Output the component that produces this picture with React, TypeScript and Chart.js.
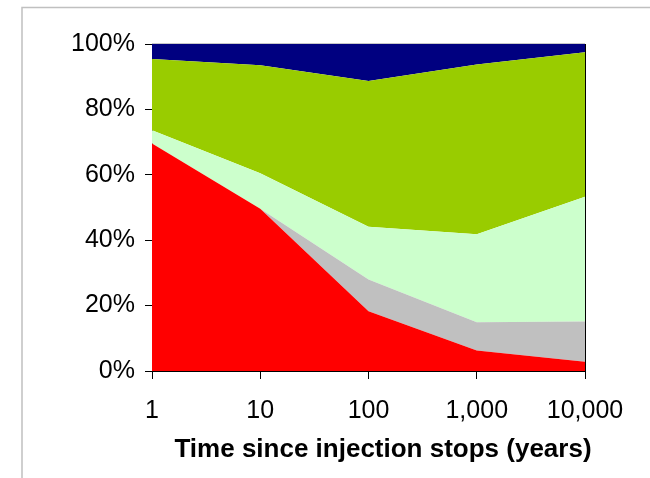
import { useEffect, useRef } from 'react';
import { Chart, registerables } from 'chart.js';

Chart.register(...registerables);

const categories = ['1', '10', '100', '1,000', '10,000'];
const redShare = [69.6, 49.6, 18.3, 6.3, 2.8];
const grayShare = [0, 0, 9.7, 8.6, 12.3];
const paleGreenShare = [4.0, 10.9, 16.1, 26.9, 38.2];
const greenShare = [21.8, 33.0, 44.6, 51.9, 44.2];
const navyShare = [4.6, 6.5, 11.3, 6.3, 2.5];
const axisTitle = 'Time since injection stops (years)';

const FONT = '"Liberation Sans", Arial, Helvetica, sans-serif';

export default function App() {
  const ref = useRef<HTMLCanvasElement>(null);

  useEffect(() => {
    if (!ref.current) return;

    const framePlugin = {
      id: 'frame',
      beforeDraw(chart: any) {
        const ctx = chart.ctx;
        ctx.save();
        ctx.strokeStyle = '#c0c0c0';
        ctx.lineWidth = 1.5;
        ctx.beginPath();
        ctx.moveTo(22, chart.height);
        ctx.lineTo(22, 7.5);
        ctx.lineTo(chart.width, 7.5);
        ctx.stroke();
        ctx.restore();
      },
      afterDraw(chart: any) {
        const ctx = chart.ctx;
        const a = chart.chartArea;
        ctx.save();
        ctx.strokeStyle = '#c8c8c8';
        ctx.lineWidth = 1;
        ctx.beginPath();
        ctx.moveTo(a.left, a.top - 0.5);
        ctx.lineTo(a.right, a.top - 0.5);
        ctx.stroke();
        ctx.strokeStyle = '#000';
        ctx.beginPath();
        ctx.moveTo(a.right + 0.5, a.top);
        ctx.lineTo(a.right + 0.5, a.bottom);
        ctx.stroke();
        ctx.fillStyle = '#000';
        ctx.font = `bold 26px ${FONT}`;
        ctx.textAlign = 'center';
        ctx.textBaseline = 'alphabetic';
        ctx.fillText(axisTitle, 383, 457);
        ctx.restore();
      },
    };

    const ds = (label: string, data: number[], color: string, fill: any) => ({
      label,
      data,
      backgroundColor: color,
      borderColor: color,
      borderWidth: 0,
      pointRadius: 0,
      tension: 0,
      fill,
    });

    const chart = new Chart(ref.current, {
      type: 'line',
      data: {
        labels: categories,
        datasets: [
          ds('Red', redShare, '#ff0000', 'origin'),
          ds('Gray', grayShare, '#c0c0c0', '-1'),
          ds('Pale green', paleGreenShare, '#ccffcc', '-1'),
          ds('Green', greenShare, '#99cc00', '-1'),
          ds('Navy', navyShare, '#000080', '-1'),
        ],
      },
      options: {
        animation: false,
        responsive: false,
        layout: { padding: { top: 44, right: 65, left: 0, bottom: 0 } },
        plugins: {
          legend: { display: false },
          tooltip: { enabled: false },
        },
        scales: {
          x: {
            type: 'category',
            offset: false,
            grid: { drawOnChartArea: false, tickLength: 8, color: '#000' },
            border: { color: '#000', width: 1 },
            ticks: {
              font: { size: 25, family: FONT },
              color: '#000',
              padding: 17,
              maxRotation: 0,
              autoSkip: false,
            },
            afterFit(s: any) {
              s.height = 107;
            },
          },
          y: {
            stacked: true,
            min: 0,
            max: 100,
            grid: { drawOnChartArea: false, tickLength: 7, color: '#000' },
            border: { color: '#000', width: 1 },
            ticks: {
              stepSize: 10,
              font: { size: 25, family: FONT },
              color: '#000',
              padding: 10,
              callback: (v: any) => (Number(v) % 20 === 0 ? `${v}%` : ''),
            },
            afterFit(s: any) {
              s.width = 152;
            },
          },
        },
      },
      plugins: [framePlugin],
    } as any);

    return () => chart.destroy();
  }, []);

  return (
    <canvas
      ref={ref}
      width={650}
      height={478}
      style={{ position: 'absolute', left: 0, top: 0, display: 'block' }}
    />
  );
}
